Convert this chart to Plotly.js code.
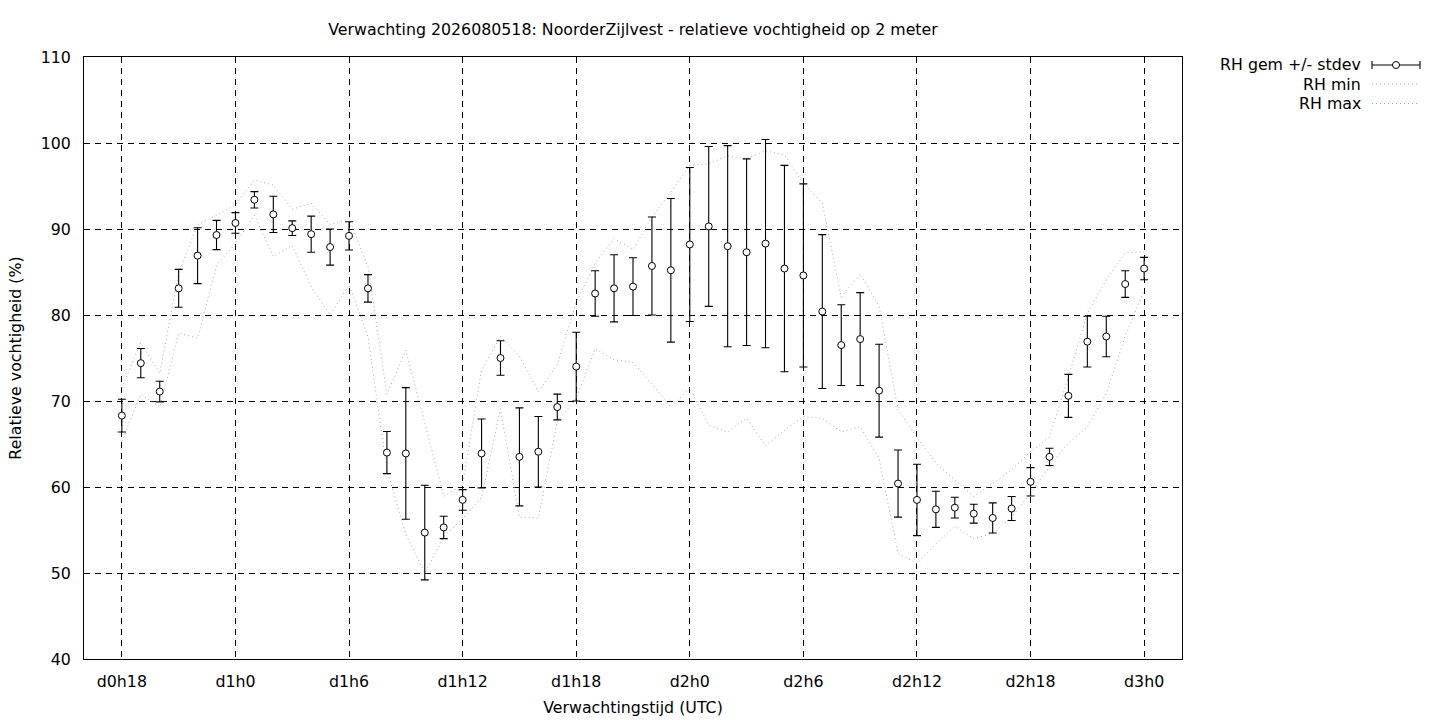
<!DOCTYPE html>
<html>
<head>
<meta charset="utf-8">
<script src="https://cdn.plot.ly/plotly-3.0.1.min.js"></script>
<style>
  html, body { margin: 0; padding: 0; background: #fff; }
  #chart { width: 1440px; height: 720px; }
</style>
</head>
<body>
<div id="chart"></div>
<script>
// Forecast hours since d0h0 (UTC)
const hours = [18,19,20,21,22,23,24,25,26,27,28,29,30,31,32,33,34,35,36,37,38,39,40,41,42,43,44,45,46,47,48,49,50,51,52,53,54,55,56,57,58,59,60,61,62,63,64,65,66,67,68,69,70,71,72];

// RH mean (%)
const rhMean = [68.3,74.4,71.1,83.1,86.9,89.3,90.7,93.4,91.7,90.1,89.4,87.9,89.2,83.1,64.0,63.9,54.7,55.3,58.5,63.9,75.0,63.5,64.1,69.3,74.0,82.5,83.1,83.3,85.7,85.2,88.2,90.3,88.0,87.3,88.3,85.4,84.6,80.4,76.5,77.2,71.2,60.4,58.5,57.4,57.6,56.9,56.4,57.5,60.6,63.5,70.6,76.9,77.5,83.6,85.4];

// RH standard deviation (%)
const rhStdev = [1.9,1.7,1.2,2.2,3.25,1.7,1.2,0.95,2.1,0.85,2.1,2.1,1.65,1.6,2.45,7.65,5.5,1.3,1.2,4.0,2.0,5.7,4.1,1.5,4.0,2.65,3.9,3.35,5.7,8.35,8.95,9.3,11.7,10.85,12.1,12.0,10.65,8.95,4.7,5.4,5.4,3.9,4.15,2.1,1.2,1.1,1.75,1.4,1.65,1.0,2.5,2.95,2.35,1.55,1.3];

// RH minimum (%)
const rhMin = [65.3,70.8,69.3,77.9,77.3,85.8,88.3,91.6,86.8,88.1,83.3,80.0,83.5,77.5,62.0,54.5,50.0,54.2,56.3,58.8,69.1,56.5,56.4,67.6,70.3,76.1,74.8,74.5,72.0,69.3,71.5,67.2,66.4,68.0,64.8,66.6,68.2,68.0,66.4,67.0,63.3,52.3,51.1,53.4,55.4,54.0,54.6,56.5,59.3,62.4,65.1,67.0,70.9,77.5,82.9];

// RH maximum (%)
const rhMax = [71.5,76.8,73.2,84.9,90.5,91.6,92.8,95.7,95.1,92.3,93.0,90.5,91.2,85.6,70.8,75.9,67.5,58.9,60.3,73.6,77.5,75.2,71.1,74.2,81.5,86.0,88.9,87.6,91.4,94.3,97.4,97.6,98.5,98.2,99.1,98.6,95.3,93.0,82.1,84.8,81.0,69.0,65.8,62.8,60.8,58.9,60.4,62.0,64.1,65.8,72.8,80.2,84.1,87.2,87.4];

// X tick positions and labels
const tickHours = [18,24,30,36,42,48,54,60,66,72];
const tickLabels = ['d0h18','d1h0','d1h6','d1h12','d1h18','d2h0','d2h6','d2h12','d2h18','d3h0'];

// Legend names
const seriesNames = ['RH gem +/- stdev','RH min','RH max'];

const FONT = 'DejaVu Sans, sans-serif';
const FS = 15.8;
const dotted = '1px,3px';
const grayDot = '#a8a8a8';

const traces = [
  {
    x: hours, y: rhMin, name: seriesNames[1], type: 'scatter', mode: 'lines',
    line: { color: grayDot, width: 1, dash: dotted }, hoverinfo: 'skip', showlegend: false
  },
  {
    x: hours, y: rhMax, name: seriesNames[2], type: 'scatter', mode: 'lines',
    line: { color: grayDot, width: 1, dash: dotted }, hoverinfo: 'skip', showlegend: false
  },
  {
    x: hours, y: rhMean, name: seriesNames[0], type: 'scatter', mode: 'markers',
    marker: { symbol: 'circle', size: 7, color: '#ffffff', line: { color: '#000000', width: 1 } },
    error_y: { type: 'data', array: rhStdev, visible: true, color: '#000000', thickness: 1.1, width: 4 },
    showlegend: false
  }
];

// Custom gnuplot-style legend (text right aligned, sample on the right)
const L = 84, W = 1098, B = 659, H = 602;
const px = v => (v - L) / W;
const py = v => (B - v) / H;
const rowsY = [65, 84, 103.5];
const sx0 = px(1372), sx1 = px(1420), sxc = px(1396);

const annotations = seriesNames.map((n, i) => ({
  text: n, xref: 'paper', yref: 'paper', x: px(1363), y: py(rowsY[i]),
  xanchor: 'right', yanchor: 'middle', showarrow: false,
  font: { family: FONT, size: FS, color: '#000' }
}));

const shapes = [
  { type: 'line', xref: 'paper', yref: 'paper', x0: sx0, x1: sx1, y0: py(rowsY[0]), y1: py(rowsY[0]),
    line: { color: '#000', width: 1.1 } },
  { type: 'line', xref: 'paper', yref: 'paper', x0: sx0, x1: sx0, ysizemode: 'pixel', yanchor: py(rowsY[0]), y0: -4, y1: 4,
    line: { color: '#000', width: 1.1 } },
  { type: 'line', xref: 'paper', yref: 'paper', x0: sx1, x1: sx1, ysizemode: 'pixel', yanchor: py(rowsY[0]), y0: -4, y1: 4,
    line: { color: '#000', width: 1.1 } },
  { type: 'circle', xref: 'paper', yref: 'paper', xsizemode: 'pixel', ysizemode: 'pixel',
    xanchor: sxc, yanchor: py(rowsY[0]), x0: -3.5, x1: 3.5, y0: -3.5, y1: 3.5,
    fillcolor: '#fff', line: { color: '#000', width: 1 } },
  { type: 'line', xref: 'paper', yref: 'paper', x0: sx0, x1: sx1, y0: py(rowsY[1]), y1: py(rowsY[1]),
    line: { color: grayDot, width: 1, dash: dotted } },
  { type: 'line', xref: 'paper', yref: 'paper', x0: sx0, x1: sx1, y0: py(rowsY[2]), y1: py(rowsY[2]),
    line: { color: grayDot, width: 1, dash: dotted } }
];

const layout = {
  width: 1440, height: 720,
  margin: { l: 84, r: 258, t: 57, b: 61, pad: 0 },
  paper_bgcolor: '#fff', plot_bgcolor: '#fff',
  font: { family: FONT, size: FS, color: '#000' },
  showlegend: false,
  title: {
    text: 'Verwachting 2026080518: NoorderZijlvest - relatieve vochtigheid op 2 meter',
    xref: 'paper', x: 0.5, xanchor: 'center',
    yref: 'container', y: 1 - 29 / 720, yanchor: 'middle',
    font: { family: FONT, size: FS, color: '#000' }
  },
  xaxis: {
    range: [16, 74], tickmode: 'array', tickvals: tickHours, ticktext: tickLabels,
    showgrid: true, gridcolor: '#000', gridwidth: 1, griddash: '6px,5px',
    showline: true, linecolor: '#000', linewidth: 1, mirror: true,
    ticks: '', zeroline: false, ticklabelstandoff: 8,
    title: { text: 'Verwachtingstijd (UTC)', standoff: 11, font: { family: FONT, size: FS, color: '#000' } },
    automargin: false
  },
  yaxis: {
    range: [40, 110], tickmode: 'array', tickvals: [40,50,60,70,80,90,100,110],
    showgrid: true, gridcolor: '#000', gridwidth: 1, griddash: '6px,5px',
    showline: true, linecolor: '#000', linewidth: 1, mirror: true,
    ticks: '', zeroline: false, ticklabelstandoff: 9,
    title: { text: 'Relatieve vochtigheid (%)', standoff: 15, font: { family: FONT, size: FS, color: '#000' } },
    automargin: false
  },
  annotations: annotations,
  shapes: shapes
};

Plotly.newPlot('chart', traces, layout, { staticPlot: true, displayModeBar: false });
</script>
</body>
</html>
